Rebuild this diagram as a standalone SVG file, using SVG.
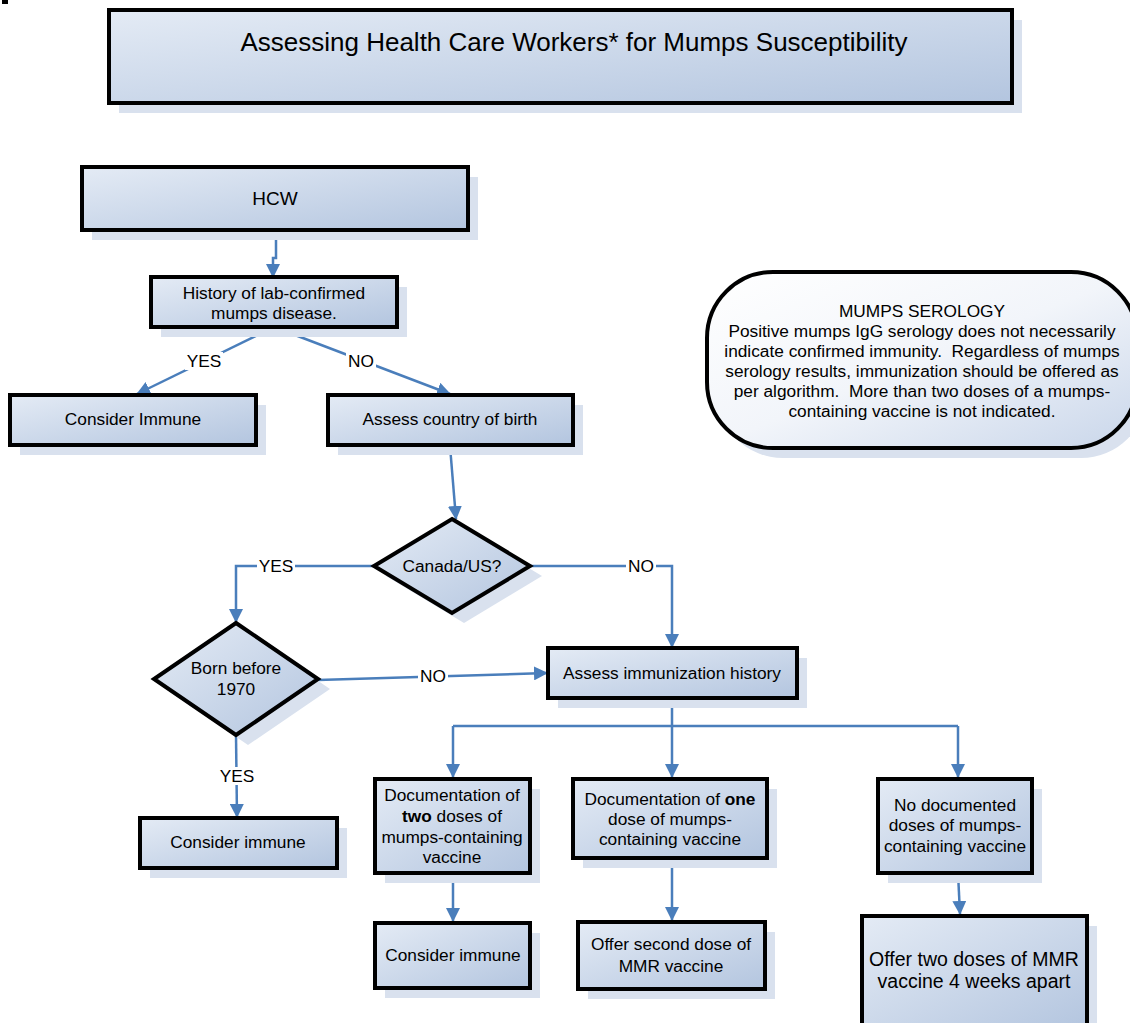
<svg xmlns="http://www.w3.org/2000/svg" width="1130" height="1023" viewBox="0 0 1130 1023">
<defs>
<linearGradient id="g" x1="0" y1="0" x2="1" y2="1">
<stop offset="0" stop-color="#e4ebf5"/>
<stop offset="1" stop-color="#b3c5df"/>
</linearGradient>
<linearGradient id="g2" x1="0" y1="0" x2="1" y2="1">
<stop offset="0" stop-color="#ffffff"/>
<stop offset="0.5" stop-color="#f2f5fa"/>
<stop offset="1" stop-color="#c9d6ea"/>
</linearGradient>
<marker id="ah" viewBox="0 0 14 14" refX="13" refY="7" markerWidth="14" markerHeight="14" markerUnits="userSpaceOnUse" orient="auto">
<path d="M0,0 L14,7 L0,14 z" fill="#4a7ebb"/>
</marker>
</defs>
<style>
.sh{fill:#d9e1ee}
.bx{fill:url(#g);stroke:#000;stroke-width:4}
.t{font-family:"Liberation Sans",Arial,sans-serif;font-size:17.3px;fill:#000;text-anchor:middle;dominant-baseline:central}
.c{fill:none;stroke:#4a7ebb;stroke-width:2.5}
.lb{fill:#fff}
</style>
<rect x="2" y="0" width="6" height="4" fill="#000"/>

<g id="title">
<rect class="sh" x="119" y="20" width="903" height="93"/>
<rect class="bx" x="109" y="10" width="903" height="93"/>
<text class="t" x="574" y="42" style="font-size:26px">Assessing Health Care Workers* for Mumps Susceptibility</text>
</g>

<g id="serology">
<rect x="717" y="282" width="430" height="176" rx="66" fill="#d9e1ee"/>
<rect x="707" y="272" width="430" height="176" rx="66" fill="url(#g2)" stroke="#000" stroke-width="4"/>
<text class="t" x="922" y="311">MUMPS SEROLOGY</text>
<text class="t" x="922" y="331">Positive mumps IgG serology does not necessarily</text>
<text class="t" x="922" y="351">indicate confirmed immunity.&#160; Regardless of mumps</text>
<text class="t" x="922" y="371">serology results, immunization should be offered as</text>
<text class="t" x="922" y="391">per algorithm.&#160; More than two doses of a mumps-</text>
<text class="t" x="922" y="411">containing vaccine is not indicated.</text>
</g>

<g id="connectors">
<path class="c" d="M276,230 V258 H273 V277" marker-end="url(#ah)"/>
<path class="c" d="M274,327 L137,394" marker-end="url(#ah)"/>
<path class="c" d="M274,327 L450,394" marker-end="url(#ah)"/>
<path class="c" d="M450,446 L456,519" marker-end="url(#ah)"/>
<path class="c" d="M374,566 H236 V622" marker-end="url(#ah)"/>
<path class="c" d="M530,566 H672 V647" marker-end="url(#ah)"/>
<path class="c" d="M318,680 L547,673" marker-end="url(#ah)"/>
<path class="c" d="M236,735 L237,817" marker-end="url(#ah)"/>
<path class="c" d="M672,699 V726 M453,726 H958"/>
<path class="c" d="M453,726 V777" marker-end="url(#ah)"/>
<path class="c" d="M672,726 V777" marker-end="url(#ah)"/>
<path class="c" d="M958,726 V777" marker-end="url(#ah)"/>
<path class="c" d="M453,873 V921" marker-end="url(#ah)"/>
<path class="c" d="M672,858 V920" marker-end="url(#ah)"/>
<path class="c" d="M958,873 L960,914" marker-end="url(#ah)"/>
<rect class="lb" x="185" y="352" width="38" height="18"/>
<text class="t" x="204" y="361">YES</text>
<rect class="lb" x="346" y="352" width="30" height="18"/>
<text class="t" x="361" y="361">NO</text>
<rect class="lb" x="257" y="557" width="38" height="18"/>
<text class="t" x="276" y="566">YES</text>
<rect class="lb" x="626" y="557" width="30" height="18"/>
<text class="t" x="641" y="566">NO</text>
<rect class="lb" x="418" y="667" width="30" height="18"/>
<text class="t" x="433" y="676">NO</text>
<rect class="lb" x="218" y="767" width="38" height="18"/>
<text class="t" x="237" y="776">YES</text>
</g>

<g id="hcw">
<rect class="sh" x="92" y="177" width="386" height="63"/>
<rect class="bx" x="82" y="167" width="386" height="63"/>
<text class="t" x="275" y="198" style="font-size:19px">HCW</text>
</g>

<g id="history">
<rect class="sh" x="161" y="287" width="246" height="50"/>
<rect class="bx" x="151" y="277" width="246" height="50"/>
<text class="t" x="274" y="293">History of lab-confirmed</text>
<text class="t" x="274" y="313">mumps disease.</text>
</g>

<g id="immune1">
<rect class="sh" x="20" y="405" width="246" height="50"/>
<rect class="bx" x="10" y="395" width="246" height="50"/>
<text class="t" x="133" y="419">Consider Immune</text>
</g>

<g id="country">
<rect class="sh" x="338" y="405" width="245" height="50"/>
<rect class="bx" x="328" y="395" width="245" height="50"/>
<text class="t" x="450" y="419">Assess country of birth</text>
</g>

<g id="canada">
<path class="sh" d="M464,529 L542,576 L464,623 L386,576 z"/>
<path class="bx" d="M452,519 L530,566 L452,613 L374,566 z"/>
<text class="t" x="452" y="566">Canada/US?</text>
</g>

<g id="born">
<path class="sh" d="M248,633 L330,689 L248,745 L166,689 z"/>
<path class="bx" d="M236,623 L318,679 L236,735 L154,679 z"/>
<text class="t" x="236" y="668">Born before</text>
<text class="t" x="236" y="689">1970</text>
</g>

<g id="assessimm">
<rect class="sh" x="558" y="658" width="249" height="50"/>
<rect class="bx" x="548" y="648" width="249" height="50"/>
<text class="t" x="672" y="673">Assess immunization history</text>
</g>

<g id="immune2">
<rect class="sh" x="150" y="828" width="197" height="50"/>
<rect class="bx" x="140" y="818" width="197" height="50"/>
<text class="t" x="238" y="842">Consider immune</text>
</g>

<g id="twodoses">
<rect class="sh" x="385" y="789" width="155" height="94"/>
<rect class="bx" x="375" y="779" width="155" height="94"/>
<text class="t" x="452" y="795">Documentation of</text>
<text class="t" x="452" y="816"><tspan font-weight="bold">two</tspan> doses of</text>
<text class="t" x="452" y="837">mumps-containing</text>
<text class="t" x="452" y="857">vaccine</text>
</g>

<g id="onedose">
<rect class="sh" x="583" y="789" width="194" height="79"/>
<rect class="bx" x="573" y="779" width="194" height="79"/>
<text class="t" x="670" y="799">Documentation of <tspan font-weight="bold">one</tspan></text>
<text class="t" x="670" y="819">dose of mumps-</text>
<text class="t" x="670" y="839">containing vaccine</text>
</g>

<g id="nodoc">
<rect class="sh" x="888" y="789" width="154" height="94"/>
<rect class="bx" x="878" y="779" width="154" height="94"/>
<text class="t" x="955" y="805">No documented</text>
<text class="t" x="955" y="825">doses of mumps-</text>
<text class="t" x="955" y="846">containing vaccine</text>
</g>

<g id="immune3">
<rect class="sh" x="385" y="933" width="155" height="65"/>
<rect class="bx" x="375" y="923" width="155" height="65"/>
<text class="t" x="453" y="955">Consider immune</text>
</g>

<g id="offersecond">
<rect class="sh" x="588" y="932" width="187" height="67"/>
<rect class="bx" x="578" y="922" width="187" height="67"/>
<text class="t" x="671" y="944">Offer second dose of</text>
<text class="t" x="671" y="966">MMR vaccine</text>
</g>

<g id="offertwo">
<rect class="sh" x="872" y="926" width="225" height="115"/>
<rect class="bx" x="862" y="916" width="225" height="115"/>
<text class="t" x="974" y="959" style="font-size:19.5px">Offer two doses of MMR</text>
<text class="t" x="974" y="981" style="font-size:19.5px">vaccine 4 weeks apart</text>
</g>
</svg>
